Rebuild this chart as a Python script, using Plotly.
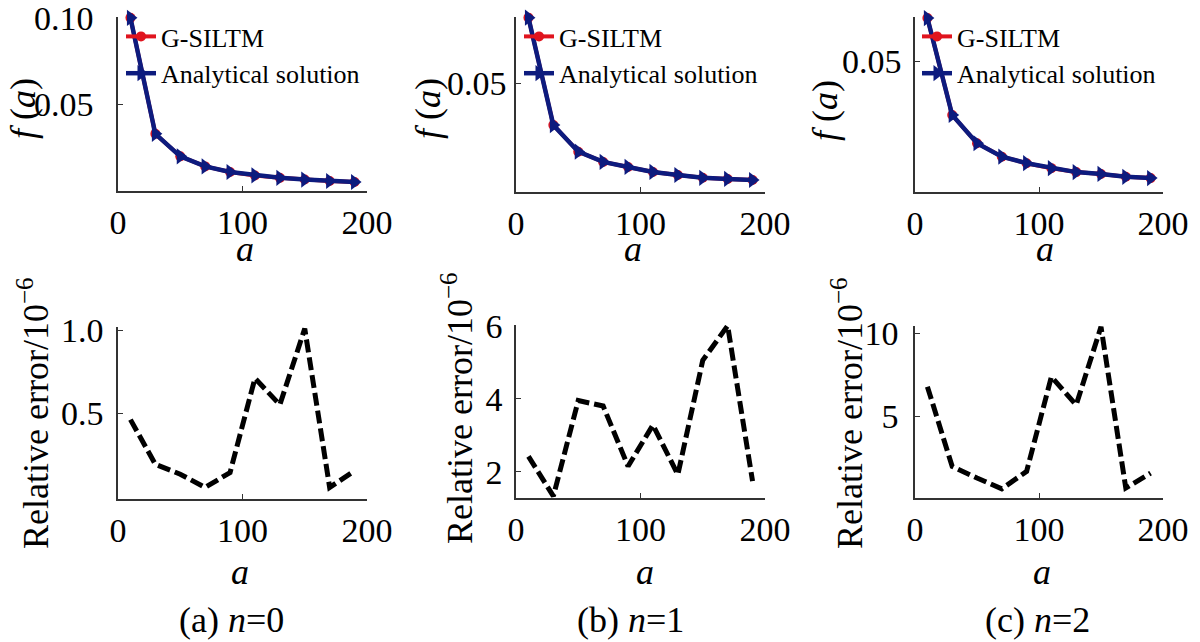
import plotly.graph_objects as go
from plotly.subplots import make_subplots

W, H = 1200, 642

a_vals = [10, 30, 50, 70, 90, 110, 130, 150, 170, 190]

# f(a) (G-SILTM sits under the analytical curve)
f_n0 = [0.100, 0.0330, 0.0200, 0.0142, 0.0110, 0.0090, 0.0076, 0.0066, 0.0058, 0.0052]
f_n1 = [0.0800, 0.0307, 0.0185, 0.0138, 0.0115, 0.0092, 0.0078, 0.0065, 0.0060, 0.0055]
f_n2 = [0.0664, 0.0294, 0.0186, 0.0135, 0.0110, 0.0091, 0.0076, 0.0069, 0.0058, 0.0053]

# relative error / 1e-6, bottom row
err_n0 = [0.46, 0.19, 0.13, 0.05, 0.14, 0.71, 0.55, 1.01, 0.05, 0.15]
err_n1 = [2.42, 1.33, 3.95, 3.80, 2.15, 3.28, 1.92, 5.05, 6.00, 1.74]
err_n2 = [6.8, 2.0, 1.3, 0.65, 1.7, 7.4, 5.7, 10.4, 0.7, 1.6]

captions = ["(a) <i>n</i>=0", "(b) <i>n</i>=1", "(c) <i>n</i>=2"]

FONT = "Times New Roman, Liberation Serif, serif"
RED = "#e0141e"
BLUE = "#0d1b7e"
AX = "#333333"


def px(x):
    return x / W


def py(y):
    return 1 - y / H


fig = make_subplots(rows=2, cols=3)

tops = [f_n0, f_n1, f_n2]
bots = [err_n0, err_n1, err_n2]
for i in range(3):
    leg = "legend" if i == 0 else "legend%d" % (i + 1)
    fig.add_trace(go.Scatter(x=a_vals, y=tops[i], mode="lines+markers", name="G-SILTM",
                             line=dict(color=RED, width=4),
                             marker=dict(symbol="circle", size=10, color=RED),
                             cliponaxis=False, legend=leg), row=1, col=i + 1)
    fig.add_trace(go.Scatter(x=a_vals, y=tops[i], mode="lines+markers", name="Analytical solution",
                             line=dict(color=BLUE, width=4.5),
                             marker=dict(symbol="triangle-right", size=14, color=BLUE),
                             cliponaxis=False, legend=leg), row=1, col=i + 1)
    fig.add_trace(go.Scatter(x=a_vals, y=bots[i], mode="lines", showlegend=False,
                             line=dict(color="black", width=5, dash="13px,5px")),
                  row=2, col=i + 1)

# pixel boxes of each plot area in the reference
xdom = [(118, 367), (516, 765), (915, 1163)]
top_y = [(17, 191), (17, 192), (17, 192)]
bot_y = [(327, 499), (325, 498), (326, 498)]

top_rng = [[0, 0.1005], [0, 0.0803], [0, 0.0668]]
top_ticks = [[0.05, 0.10], [0.05], [0.05]]
top_stand = [16, 1, 5]
bot_rng = [[-0.02, 1.02], [1.28, 6.02], [0.1, 10.45]]
bot_ticks = [[0.5, 1.0], [2, 4, 6], [5, 10]]
bot_fmt = [".1f", "d", "d"]
bot_stand = [6, 5, 8]

axis_common = dict(showline=True, linecolor=AX, linewidth=1.5, ticks="inside", ticklen=5,
                   tickcolor=AX, showgrid=False, zeroline=False, ticklabeloverflow="allow",
                   tickfont=dict(family=FONT, size=34, color="black"))

for i in range(3):
    n_top = i + 1
    n_bot = i + 4
    xa_top = "xaxis" if n_top == 1 else "xaxis%d" % n_top
    ya_top = "yaxis" if n_top == 1 else "yaxis%d" % n_top
    xa_bot = "xaxis%d" % n_bot
    ya_bot = "yaxis%d" % n_bot
    d = [px(xdom[i][0]), px(xdom[i][1])]
    fig.update_layout(**{
        xa_top: dict(axis_common, domain=d, range=[0, 200], tickvals=[0, 100, 200], ticklabelstandoff=0),
        ya_top: dict(axis_common, domain=[py(top_y[i][1]), py(top_y[i][0])], range=top_rng[i],
                     tickvals=top_ticks[i], tickformat=".2f", ticklabelstandoff=top_stand[i]),
        xa_bot: dict(axis_common, domain=d, range=[0, 200], tickvals=[0, 100, 200], ticklabelstandoff=0),
        ya_bot: dict(axis_common, domain=[py(bot_y[i][1]), py(bot_y[i][0])], range=bot_rng[i],
                     tickvals=bot_ticks[i], tickformat=bot_fmt[i], ticklabelstandoff=bot_stand[i]),
    })

leg_common = dict(font=dict(family=FONT, size=26, color="black"), bgcolor="rgba(0,0,0,0)",
                  xanchor="left", yanchor="top", tracegroupgap=0, itemwidth=30)
fig.update_layout(
    legend=dict(leg_common, x=px(121), y=py(13)),
    legend2=dict(leg_common, x=px(519), y=py(13)),
    legend3=dict(leg_common, x=px(917), y=py(13)),
)

# axis titles and captions
big = dict(family=FONT, size=36, color="black")
ann = []
for xc, yc in [(245, 249), (633, 249), (1045, 249), (240, 572), (645, 572), (1042, 572)]:
    ann.append(dict(x=px(xc), y=py(yc), text="<i>a</i>", font=big))
for xc, yc in [(23, 109), (428, 109), (825, 111)]:
    ann.append(dict(x=px(xc), y=py(yc), text="<i>f</i> (<i>a</i>)", font=big, textangle=-90))
for xc, yc in [(33, 413), (457, 408), (847, 413)]:
    ann.append(dict(x=px(xc), y=py(yc), text="Relative error/10<sup>\u22126</sup>", font=big, textangle=-90))
for xc, t in zip([231, 630, 1037], captions):
    ann.append(dict(x=px(xc), y=py(620), text=t, font=big))
for a in ann:
    a.update(xref="paper", yref="paper", showarrow=False, xanchor="center", yanchor="middle")

fig.update_layout(width=W, height=H, margin=dict(l=0, r=0, t=0, b=0, autoexpand=False),
                  paper_bgcolor="white", plot_bgcolor="white", annotations=ann,
                  font=dict(family=FONT, color="black"))

# the page's default 8px body margin would push the figure off the window
fig.write_html("out.html", config={"displayModeBar": False},
               post_script="document.body.style.margin='0px';")
